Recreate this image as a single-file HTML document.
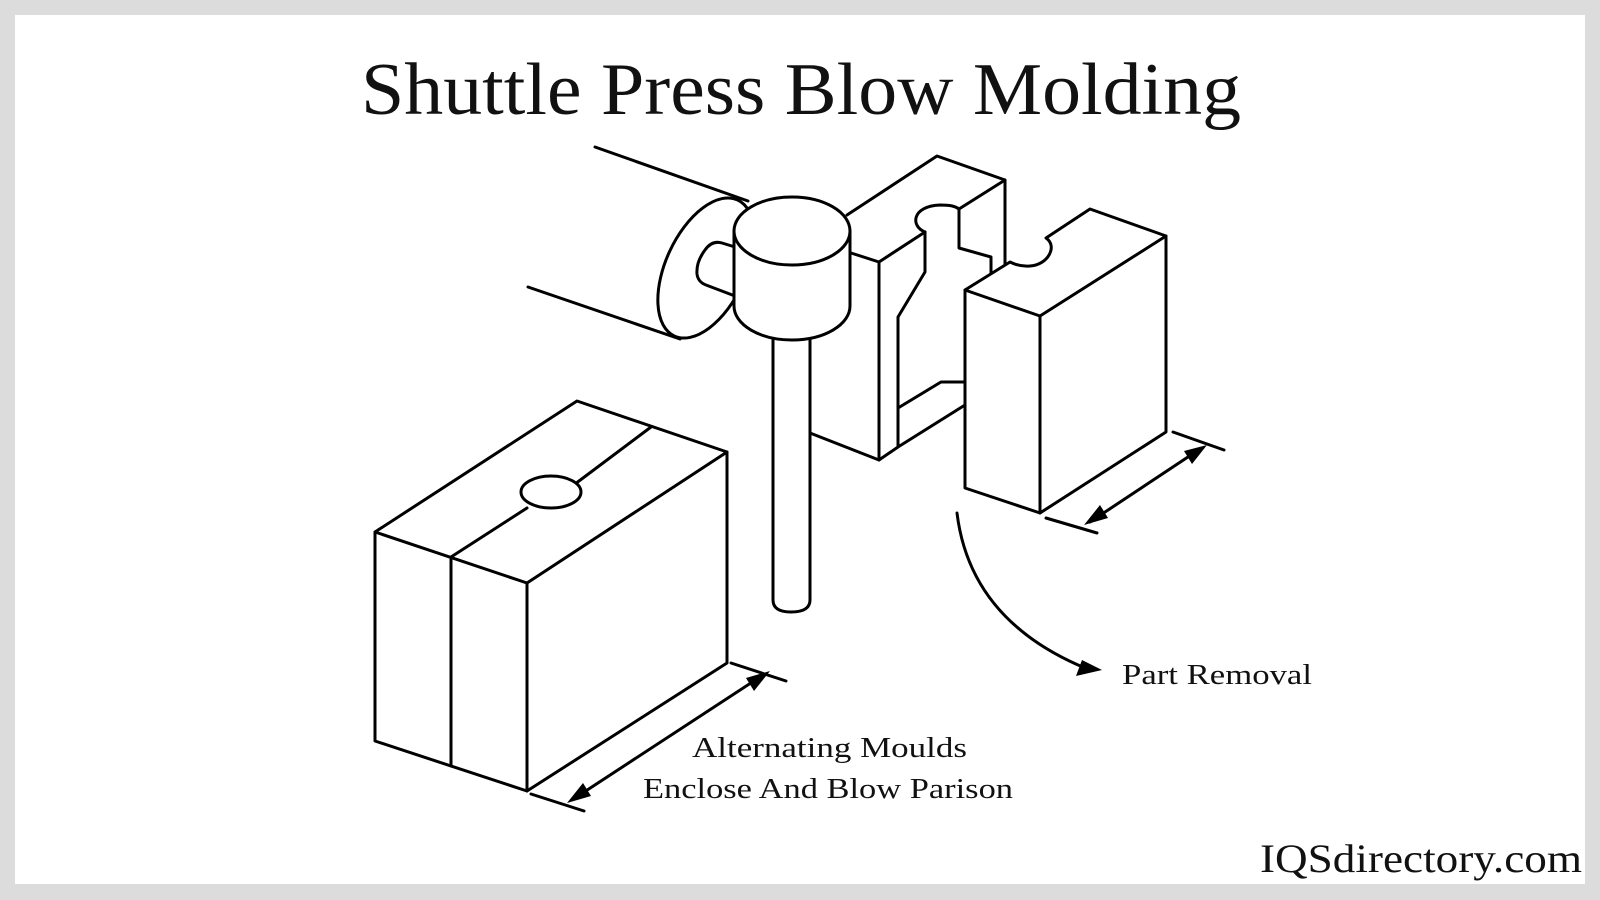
<!DOCTYPE html>
<html><head><meta charset="utf-8"><style>
html,body{margin:0;padding:0;background:#fff}
svg{display:block}
</style></head><body>
<svg width="1600" height="900" viewBox="0 0 1600 900" xmlns="http://www.w3.org/2000/svg">
<rect x="0" y="0" width="1600" height="900" fill="#dcdcdc"/>
<rect x="15" y="15" width="1570" height="869" fill="#fff"/>
<text x="801" y="114" text-anchor="middle" font-family="Liberation Serif, serif" font-size="74" textLength="880" lengthAdjust="spacingAndGlyphs" fill="#111">Shuttle Press Blow Molding</text>
<g fill="none" stroke="#000" stroke-width="3" stroke-linejoin="round" stroke-linecap="round">
<line x1="595" y1="147" x2="748" y2="201"/>
<line x1="528" y1="287" x2="680" y2="339"/>
<ellipse cx="706" cy="268" rx="40" ry="75" transform="rotate(25 706 268)" fill="#fff"/>
<path d="M735,247 L722,243 Q712,240 705,250 Q696,262 697,274 Q698,282 706,285 L735,296" fill="#fff"/>
<path d="M734,231 L734,306 A58,34 0 0 0 850,306 L850,231" fill="#fff"/>
<ellipse cx="792" cy="231" rx="58" ry="34" fill="#fff"/>
<path d="M773,340 L773,600 Q773,612 791,612 Q810,612 810,600 L810,340"/>
<polyline points="847,215 937,156 1005,180 1005,267"/>
<polyline points="851,253 879,262 879,460 810,433"/>
<polyline points="879,262 925,232"/>
<path d="M925,232 C910,226 912,206 940,205 C950,205 955,206 959,209 L1005,180"/>
<polyline points="959,209 959,248 991,257 991,274"/>
<polyline points="925,232 925,272 898,317 898,447"/>
<polyline points="898,408 941,382 965,382"/>
<polyline points="879,460 898,447 965,405"/>
<path d="M965,290 L1010,262 Q1020,267 1030,266 C1048,265 1058,246 1046,238 L1090,209 L1166,236 L1040,316 Z" fill="#fff"/>
<polyline points="965,290 965,488 1040,513 1040,316"/>
<polyline points="1040,513 1166,432 1166,236"/>
<line x1="1046" y1="518" x2="1097" y2="533"/>
<line x1="1173" y1="432" x2="1224" y2="450"/>
<line x1="1090" y1="522" x2="1200" y2="449"/>
<path d="M957,513 Q970,620 1085,668"/>
<polygon points="375,532 577,401 727,452 527,583"/>
<polyline points="375,532 375,741 527,791 527,583"/>
<polyline points="527,791 727,663 727,452"/>
<line x1="451" y1="557" x2="451" y2="766"/>
<line x1="451" y1="557" x2="527" y2="508"/>
<line x1="575" y1="484" x2="651" y2="427"/>
<ellipse cx="551" cy="492" rx="30" ry="16" fill="#fff"/>
<line x1="531" y1="794" x2="584" y2="811"/>
<line x1="731" y1="663" x2="786" y2="681"/>
<line x1="575" y1="798" x2="760" y2="677"/>
</g>
<g fill="#000">
<polygon points="1084,525 1100,505 1108,518"/>
<polygon points="1207,445 1192,464 1184,451"/>
<polygon points="567,803 583,783 591,796"/>
<polygon points="770,671 754,691 746,678"/>
<polygon points="1102,670 1076,676 1082,660"/>
</g>
<g font-family="Liberation Serif, serif" font-size="29" fill="#111" lengthAdjust="spacingAndGlyphs">
<text x="1122" y="684" textLength="190" lengthAdjust="spacingAndGlyphs">Part Removal</text>
<text x="692" y="757" textLength="275" lengthAdjust="spacingAndGlyphs">Alternating Moulds</text>
<text x="643" y="798" textLength="370" lengthAdjust="spacingAndGlyphs">Enclose And Blow Parison</text>
<text x="1260" y="872" font-size="40" textLength="322" lengthAdjust="spacingAndGlyphs">IQSdirectory.com</text>
</g>
</svg>
</body></html>
